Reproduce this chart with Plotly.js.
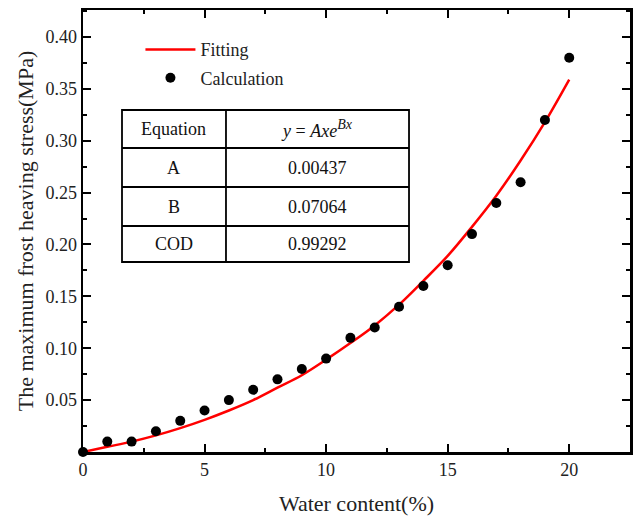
<!DOCTYPE html>
<html>
<head>
<meta charset="utf-8">
<script src="https://cdn.plot.ly/plotly-3.0.1.min.js"></script>
<style>html,body{margin:0;padding:0;background:#fff;}</style>
</head>
<body>
<div id="chart" style="width:636px;height:517px;"></div>
<script>
// Calculation points
const waterContent = [0,1,2,3,4,5,6,7,8,9,10,11,12,13,14,15,16,17,18,19,20];
const stressCalc = [0.00,0.01,0.01,0.02,0.03,0.04,0.05,0.06,0.07,0.08,0.09,0.11,0.12,0.14,0.16,0.18,0.21,0.24,0.26,0.32,0.38];
// Fitting curve
const fitX = [0,1,2,3,4,5,6,7,8,9,10,11,12,13,14,15,16,17,18,19,20];
const fitY = [0,0.005,0.010,0.016,0.023,0.031,0.040,0.050,0.062,0.074,0.089,0.105,0.122,0.142,0.165,0.189,0.217,0.247,0.281,0.318,0.359];
const yTicks = [0.05,0.10,0.15,0.20,0.25,0.30,0.35,0.40];
const xTicks = [0,5,10,15,20];
// Table contents
const tableCol1 = ["Equation","A","B","COD"];
const tableCol2 = ["<i>y</i> = <i>Axe</i><sup><span style='font-size:14px'><i>Bx</i></span></sup>","0.00437","0.07064","0.99292"];

const FONT = "Liberation Serif, Times New Roman, serif";

const traces = [
  {x: fitX, y: fitY, mode: 'lines', name: 'Fitting', line: {color: '#ff0000', width: 2.5, shape: 'spline'}, legendgroup: 'a', cliponaxis: false},
  {x: waterContent, y: stressCalc, mode: 'markers', name: 'Calculation', marker: {color: '#000', size: 10}, legendgroup: 'b', cliponaxis: false}
];

// table geometry (paper coords)
const tx = [0.0713, 0.2614, 0.596];
const ty = [0.7738, 0.6878, 0.5995, 0.5113, 0.4299];
const shapes = [];
const lineStyle = {color: '#000', width: 1.8};
shapes.push({type:'rect', xref:'paper', yref:'paper', x0: tx[0], x1: tx[2], y0: ty[4], y1: ty[0], line: lineStyle});
shapes.push({type:'line', xref:'paper', yref:'paper', x0: tx[1], x1: tx[1], y0: ty[4], y1: ty[0], line: lineStyle});
for (let i = 1; i < 4; i++) {
  shapes.push({type:'line', xref:'paper', yref:'paper', x0: tx[0], x1: tx[2], y0: ty[i], y1: ty[i], line: lineStyle});
}
const annotations = [];
for (let i = 0; i < 4; i++) {
  const yc = (ty[i] + ty[i+1]) / 2;
  annotations.push({xref:'paper', yref:'paper', x: (tx[0]+tx[1])/2, y: yc, text: tableCol1[i], showarrow:false, xanchor:'center', yanchor:'middle', font:{family: FONT, size: 18, color:'#111'}});
  annotations.push({xref:'paper', yref:'paper', x: (tx[1]+tx[2])/2, y: yc, text: tableCol2[i], showarrow:false, xanchor:'center', yanchor:'middle', font:{family: FONT, size: 18, color:'#111'}});
}

const axisCommon = {
  showline: true, linecolor: '#000', linewidth: 2.5, mirror: 'allticks',
  ticks: 'inside', ticklen: 8, tickwidth: 2, tickcolor: '#000',
  showgrid: false, zeroline: false,
  tickfont: {family: FONT, size: 18, color: '#222'},
};

const layout = {
  width: 636, height: 517,
  margin: {l: 83, r: 6, t: 10, b: 65},
  paper_bgcolor: '#fff', plot_bgcolor: '#fff',
  font: {family: FONT, color: '#000'},
  xaxis: Object.assign({}, axisCommon, {
    range: [0, 22.5], tickmode: 'array', tickvals: xTicks,
    minor: {dtick: 2.5, ticks: 'inside', ticklen: 4, tickwidth: 2, tickcolor: '#000', showgrid: false},
    title: {text: 'Water content(%)', font: {family: FONT, size: 22, color: '#222'}, standoff: 17}
  }),
  yaxis: Object.assign({}, axisCommon, {
    range: [0, 0.426], tickmode: 'array', tickvals: yTicks, tickformat: '.2f',
    minor: {dtick: 0.025, ticks: 'inside', ticklen: 4, tickwidth: 2, tickcolor: '#000', showgrid: false},
    title: {text: 'The maximum frost heaving stress(MPa)', font: {family: FONT, size: 22, color: '#222'}, standoff: 6}
  }),
  showlegend: true,
  legend: {x: 0.105, y: 0.952, xanchor: 'left', yanchor: 'top', bgcolor: 'rgba(0,0,0,0)', borderwidth: 0,
    font: {family: FONT, size: 18, color: '#222'}, tracegroupgap: 2, itemwidth: 50},
  shapes: shapes,
  annotations: annotations
};

Plotly.newPlot('chart', traces, layout, {displayModeBar: false, staticPlot: true});
</script>
</body>
</html>
